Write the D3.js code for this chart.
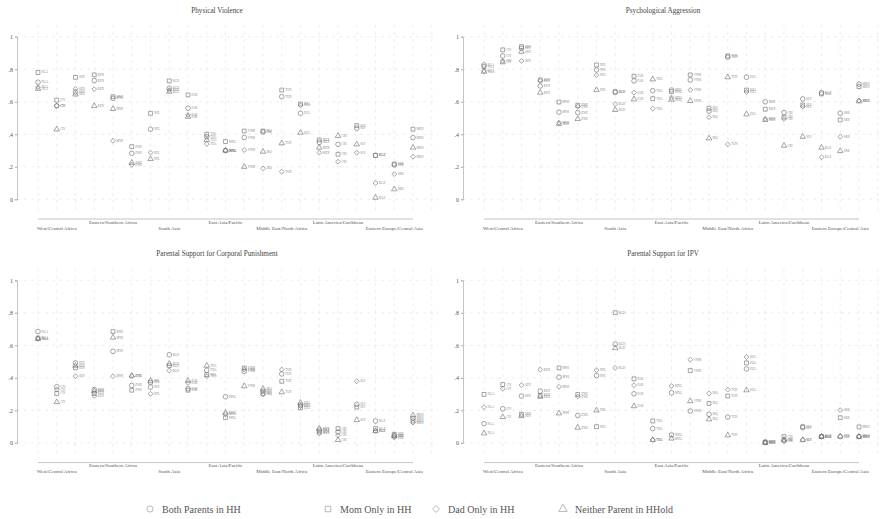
<!DOCTYPE html>
<html>
<head>
<meta charset="utf-8">
<script src="https://d3js.org/d3.v7.min.js"></script>
<style>
  body { margin: 0; background: #fff; }
  text { font-family: "Liberation Serif", "DejaVu Serif", serif; }
</style>
</head>
<body>
<div id="chart"></div>
<script>
// Data
const regions = ["West/Central Africa", "Eastern/Southern Africa", "South Asia", "East Asia/Pacific",
  "Middle East/North Africa", "Latin America/Caribbean", "Eastern Europe/Central Asia"]
const countries = ["NGA", "CIV", "SEN", "KEN", "MWI", "ZWE", "NPL", "BGD", "PAK", "THA", "MNG",
  "VNM", "IRQ", "TUN", "DZA", "MEX", "CRI", "SLV", "KGZ", "SRB", "MKD"]
const yTicks = [0, .2, .4, .6, .8, 1]
const seriesNames = ["Both Parents in HH", "Mom Only in HH", "Dad Only in HH", "Neither Parent in HHold"]

const physBoth = [.72, .575, .66, .73, .621, .283, .431, .683, .56, .385, .30, .38, .414, .631, .529, .35, .338, .437, .27, .211, .379]
const physMom = [.78, .61, .75, .765, .631, .324, .529, .728, .642, .40, .355, .42, .42, .672, .586, .365, .277, .453, .27, .217, .431]
const physDad = [.69, .575, .68, .677, .36, .212, .287, .672, .519, .34, .30, .303, .19, .17, .578, .287, .231, .287, .10, .155, .262]
const physNeither = [.68, .43, .645, .574, .556, .225, .248, .662, .508, .365, .30, .20, .293, .345, .41, .318, .39, .338, .01, .062, .318]

const psyBoth = [.826, .882, .929, .697, .536, .533, .796, .658, .728, .668, .672, .734, .543, .874, .751, .60, .533, .617, .656, .529, .708]
const psyMom = [.816, .919, .939, .734, .598, .578, .826, .662, .757, .619, .662, .765, .56, .882, .672, .554, .505, .58, .648, .488, .693]
const psyDad = [.79, .851, .851, .728, .471, .57, .763, .586, .656, .558, .625, .672, .505, .338, .66, .494, .494, .57, .258, .385, .607]
const psyNeither = [.785, .843, .908, .656, .463, .494, .672, .55, .615, .738, .613, .605, .375, .751, .523, .488, .33, .385, .318, .297, .603]

const corpBoth = [.685, .345, .492, .328, .563, .353, .343, .542, .333, .447, .284, .44, .318, .424, .233, .078, .067, .237, .135, .043, .151]
const corpMom = [.645, .304, .461, .304, .685, .324, .373, .475, .324, .42, .155, .461, .304, .379, .216, .067, .088, .22, .088, .053, .135]
const corpDad = [.64, .328, .41, .288, .41, .41, .302, .445, .369, .41, .176, .451, .298, .451, .226, .059, .047, .379, .073, .033, .125]
const corpNeither = [.64, .251, .475, .318, .648, .414, .383, .486, .383, .475, .186, .349, .333, .312, .247, .088, .018, .141, .073, .043, .169]

const ipvBoth = [.118, .21, .288, .318, .404, .169, .414, .608, .302, .088, .308, .196, .176, .159, .455, .006, .017, .094, .039, .039, .039]
const ipvMom = [.298, .359, .176, .292, .461, .298, .10, .801, .394, .135, .049, .445, .243, .288, .492, .003, .039, .10, .039, .155, .098]
const ipvDad = [.22, .333, .355, .451, .345, .285, .447, .461, .355, .02, .349, .512, .304, .328, .528, .002, .009, .02, .04, .202, .04]
const ipvNeither = [.059, .159, .165, .284, .182, .094, .20, .583, .226, .018, .027, .257, .145, .047, .324, 0, .02, .018, .038, .04, .038]

const panels = [
  { title: "Physical Violence", series: [physBoth, physMom, physDad, physNeither], ox: 0, oy: 0 },
  { title: "Psychological Aggression", series: [psyBoth, psyMom, psyDad, psyNeither], ox: 446, oy: 0 },
  { title: "Parental Support for Corporal Punishment", series: [corpBoth, corpMom, corpDad, corpNeither], ox: 0, oy: 243.6 },
  { title: "Parental Support for IPV", series: [ipvBoth, ipvMom, ipvDad, ipvNeither], ox: 446, oy: 243.6 }
]

const symbols = [d3.symbolCircle, d3.symbolSquare, d3.symbolDiamond2, d3.symbolTriangle]
const symbolSizes = [17, 15, 15, 13]
const markColor = "#6a6a6a"

const width = 880, height = 519

const svg = d3.select("#chart")
  .append("svg")
  .attr("width", width)
  .attr("height", height)

svg.append("rect").attr("width", width).attr("height", height).attr("fill", "#fff")

panels.forEach(p => {
  const g = svg.append("g").attr("transform", `translate(${p.ox},${p.oy})`)

  const xScale = d3.scaleLinear().domain([0, countries.length - 1]).range([38, 413])
  const yScale = d3.scaleLinear().domain([0, 1]).range([199.3, 36.7])

  // grid
  g.selectAll(".hgrid")
    .data(yTicks)
    .join("line")
    .attr("x1", 17).attr("x2", 438)
    .attr("y1", d => yScale(d)).attr("y2", d => yScale(d))
    .attr("stroke", "#e2e2e2").attr("stroke-width", 0.6)
    .attr("stroke-dasharray", "3,4")

  g.selectAll(".vgrid")
    .data(d3.range(countries.length + 1))
    .join("line")
    .attr("x1", d => xScale(d)).attr("x2", d => xScale(d))
    .attr("y1", 25).attr("y2", 213)
    .attr("stroke", "#e2e2e2").attr("stroke-width", 0.6)
    .attr("stroke-dasharray", "3,4")

  // y axis
  const yAxis = g.append("g")
    .attr("transform", "translate(17,0)")
    .call(d3.axisLeft(yScale).tickValues(yTicks).tickSize(2).tickPadding(2)
      .tickFormat(d => d === 0 ? "0" : d === 1 ? "1" : d3.format(".1f")(d).replace("0.", ".")))
  yAxis.select(".domain").attr("stroke", "#aaa").attr("stroke-width", 0.7)
  yAxis.selectAll(".tick line").attr("stroke", "#aaa")
  yAxis.selectAll(".tick text").attr("font-size", 6).attr("fill", "#555")
    .attr("font-family", "Liberation Serif, serif")

  // x axis with region labels
  g.append("line")
    .attr("x1", xScale(0)).attr("x2", xScale(countries.length - 1))
    .attr("y1", 219).attr("y2", 219)
    .attr("stroke", "#b5b5b5").attr("stroke-width", 0.8)

  g.selectAll(".region")
    .data(regions)
    .join("text")
    .attr("x", (d, i) => xScale(i * 3 + 1))
    .attr("y", (d, i) => i % 2 === 0 ? 229.8 : 223.6)
    .attr("text-anchor", "middle")
    .attr("font-size", 5)
    .attr("fill", "#555")
    .text(d => d)

  // title
  g.append("text")
    .attr("x", 217).attr("y", 12.5)
    .attr("text-anchor", "middle")
    .attr("font-size", 7.2)
    .attr("fill", "#444")
    .text(p.title)

  // marks
  p.series.forEach((vals, s) => {
    const sg = g.append("g")
    sg.selectAll("path")
      .data(vals)
      .join("path")
      .attr("transform", (d, i) => `translate(${xScale(i)},${yScale(d)})`)
      .attr("d", d3.symbol().type(symbols[s]).size(symbolSizes[s]))
      .attr("fill", "none")
      .attr("stroke", markColor)
      .attr("stroke-width", 0.6)
    sg.selectAll("text")
      .data(vals)
      .join("text")
      .attr("x", (d, i) => xScale(i) + 3.6)
      .attr("y", d => yScale(d) + 1)
      .attr("font-size", 3)
      .attr("fill", "#888")
      .text((d, i) => countries[i])
  })
})

// legend
const legendX = [150, 328, 436, 563]
const legend = svg.append("g")
legend.selectAll("path")
  .data(seriesNames)
  .join("path")
  .attr("transform", (d, i) => `translate(${legendX[i]},509)`)
  .attr("d", (d, i) => d3.symbol().type(symbols[i]).size(30)())
  .attr("fill", "none")
  .attr("stroke", "#999")
  .attr("stroke-width", 0.7)
legend.selectAll("text")
  .data(seriesNames)
  .join("text")
  .attr("x", (d, i) => legendX[i] + 12)
  .attr("y", 512.5)
  .attr("font-size", 10)
  .attr("fill", "#555")
  .text(d => d)
</script>
</body>
</html>
